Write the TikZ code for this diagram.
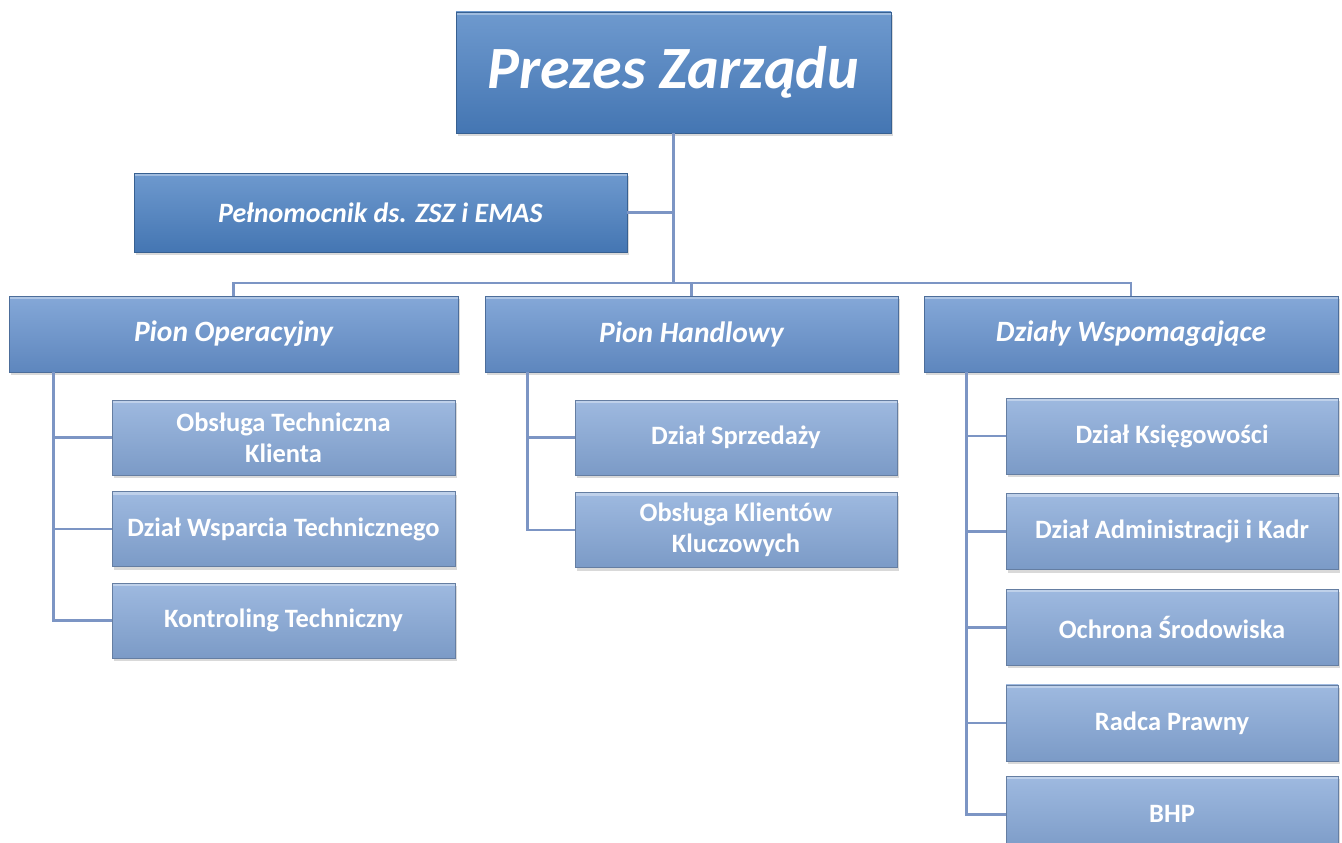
\documentclass[tikz,border=0pt]{standalone}
\usepackage{fontspec}
\setmainfont{Carlito}
\usetikzlibrary{positioning,
shadows,
calc}
\definecolor{bossblue}{RGB}{74,128,194}
\definecolor{pionblue}{RGB}{102,146,206}
\definecolor{dzialblue}{RGB}{134,168,216}
\definecolor{linkblue}{RGB}{124,149,196}

\begin{document}
\begin{tikzpicture}[
				x=1pt, y=-1pt,
				box/.style={draw=#1!75!black, line width=0.6pt, top color=#1!80!white, bottom color=#1!92!black,
					drop shadow={opacity=0.3, shadow xshift=2pt, shadow yshift=-3pt},
					text=white, align=center, inner sep=0pt,
					path picture={\fill[white, opacity=0.35] (path picture bounding box.north west) rectangle ([yshift=-3pt]path picture bounding box.north east);}},
				boss/.style={box=bossblue, font=\fontsize{60}{64}\selectfont\bfseries\itshape},
				pion/.style={box=pionblue, minimum height=76pt, font=\fontsize{29.5}{33}\selectfont\bfseries\itshape},
				dzial/.style={box=dzialblue, minimum height=75pt, font=\fontsize{26.5}{31}\selectfont\bfseries},
				link/.style={draw=linkblue, line width=2.6pt}
			]
				\useasboundingbox (0,0) rectangle (1342,843);
				\node [boss, minimum width=435pt, minimum height=121pt] (prezes) at (673.5,72.5) {Prezes Zarządu};
				\node [boss, minimum width=493pt, minimum height=79pt, font=\fontsize{28}{32}\selectfont\bfseries\itshape] (pelnomocnik) at (380.5,212.5) {Pełnomocnik ds. ZSZ i EMAS};
				\node [pion, minimum width=449pt] (operacyjny) at (233.5,334) {Pion Operacyjny};
				\node [pion, minimum width=413pt] (handlowy) at (691.5,334) {Pion Handlowy};
				\node [pion, minimum width=414pt] (wspom) at (1131,334) {Działy Wspomagające};
				% pion operacyjny
				\node [dzial, minimum width=343pt] (ots) at (283.5,437.5) {Obsługa Techniczna\\Klienta};
				\node [dzial, minimum width=343pt, below=16pt of ots] (dwt) {Dział Wsparcia Technicznego};
				\node [dzial, minimum width=343pt, below=16pt of dwt] (kt) {Kontroling Techniczny};
				% pion handlowy
				\node [dzial, minimum width=322pt] (sprzedaz) at (736,437.5) {Dział Sprzedaży};
				\node [dzial, minimum width=322pt, below=17pt of sprzedaz] (kluczowi) {Obsługa Klientów\\Kluczowych};
				% dzialy wspomagajace
				\node [dzial, minimum width=332pt, minimum height=76pt] (ksieg) at (1172,436) {Dział Księgowości};
				\node [dzial, minimum width=332pt, minimum height=76pt, below=19pt of ksieg] (kadry) {Dział Administracji i Kadr};
				\node [dzial, minimum width=332pt, minimum height=76pt, below=19pt of kadry] (srodowisko) {Ochrona Środowiska};
				\node [dzial, minimum width=332pt, minimum height=76pt, below=19pt of srodowisko] (radca) {Radca Prawny};
				\node [dzial, minimum width=332pt, minimum height=76pt, below=15pt of radca] (bhp) {BHP};
				\coordinate (bus) at (675,283);
				\coordinate (opbar) at ($(operacyjny.south west)+(45,0)$);
				\coordinate (hbar) at ($(handlowy.south west)+(43,0)$);
				\coordinate (wbar) at ($(wspom.south west)+(43,0)$);
				\path[link]
					(prezes.south) edge (prezes.south |- bus)
					(pelnomocnik.east) edge (pelnomocnik.east -| prezes.south)
					(handlowy.north) edge (handlowy.north |- bus);
				\draw[link] (operacyjny.north) |- (bus) -| (wspom.north);
				\foreach \c in {ots,dwt,kt}
					\draw[link] (\c.west) -| (opbar);
				\foreach \c in {sprzedaz,kluczowi}
					\draw[link] (\c.west) -| (hbar);
				\foreach \c in {ksieg,kadry,srodowisko,radca,bhp}
					\draw[link] (\c.west) -| (wbar);
			\end{tikzpicture}
\end{document}
